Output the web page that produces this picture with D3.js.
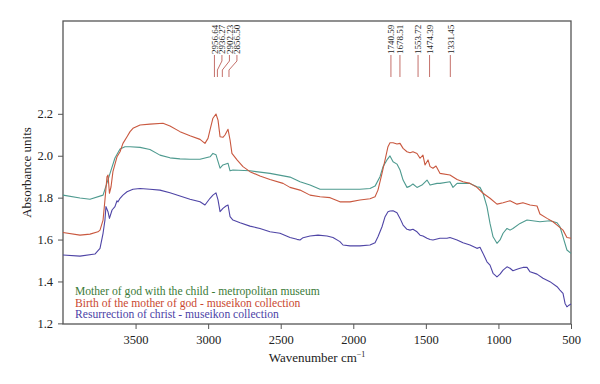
<!DOCTYPE html>
<html>
<head>
<meta charset="utf-8">
<script src="https://cdn.jsdelivr.net/npm/d3@7"></script>
<style>
  body { margin: 0; background: #fff; }
  svg text { font-family: "Liberation Serif", "Times New Roman", "DejaVu Serif", serif; }
  .axis text { font-size: 12.5px; fill: #222; }
  .axis line { stroke: #555; }
</style>
</head>
<body>
<div id="chart"></div>
<script>
// series: [wavenumber, absorbance]
const motherChild = [
  [4000,1.812],[3883,1.798],[3814,1.792],[3724,1.812],[3676,1.916],[3642,1.989],[3607,2.032],
  [3573,2.043],[3538,2.043],[3469,2.040],[3401,2.030],[3332,2.003],[3263,1.990],[3194,1.985],
  [3125,1.983],[3056,1.983],[2987,1.995],[2967,2.011],[2946,2.005],[2939,1.989],[2918,1.941],
  [2898,1.956],[2863,1.964],[2849,1.928],[2829,1.932],[2712,1.928],[2574,1.916],[2436,1.898],
  [2367,1.876],[2298,1.860],[2229,1.840],[2092,1.840],[1954,1.840],[1885,1.844],[1850,1.855],
  [1816,1.900],[1795,1.948],[1768,1.980],[1747,1.999],[1726,1.971],[1699,1.960],[1678,1.932],
  [1657,1.884],[1630,1.849],[1609,1.855],[1589,1.865],[1561,1.849],[1527,1.860],[1492,1.884],
  [1471,1.860],[1423,1.868],[1403,1.868],[1334,1.876],[1313,1.849],[1285,1.868],[1196,1.868],
  [1148,1.852],[1127,1.849],[1106,1.821],[1079,1.757],[1058,1.677],[1037,1.613],[1010,1.582],
  [989,1.598],[968,1.630],[941,1.653],[920,1.645],[900,1.653],[851,1.677],[803,1.693],
  [714,1.685],[645,1.690],[596,1.680],[576,1.661],[555,1.613],[528,1.550],[500,1.534]
];

const birthMother = [
  [4000,1.634],[3883,1.621],[3814,1.626],[3759,1.637],[3745,1.645],[3724,1.693],[3711,1.789],
  [3697,1.900],[3690,1.908],[3680,1.821],[3669,1.852],[3656,1.924],[3628,1.995],[3607,2.019],
  [3587,2.059],[3559,2.091],[3538,2.115],[3518,2.131],[3469,2.147],[3401,2.151],[3311,2.155],
  [3263,2.142],[3194,2.115],[3125,2.095],[3056,2.078],[3022,2.059],[3001,2.083],[2987,2.123],
  [2967,2.179],[2946,2.199],[2932,2.170],[2918,2.091],[2898,2.088],[2884,2.099],[2863,2.126],
  [2849,2.075],[2836,2.011],[2801,1.980],[2760,1.948],[2712,1.924],[2643,1.903],[2574,1.887],
  [2484,1.868],[2436,1.849],[2367,1.836],[2298,1.812],[2229,1.804],[2160,1.800],[2092,1.780],
  [2023,1.780],[1954,1.789],[1885,1.795],[1850,1.804],[1830,1.836],[1802,1.916],[1781,1.980],
  [1761,2.043],[1747,2.062],[1726,2.062],[1699,2.056],[1678,2.059],[1657,2.035],[1630,2.019],
  [1609,2.014],[1589,2.019],[1561,2.011],[1540,1.988],[1520,2.003],[1506,1.956],[1485,1.980],
  [1471,1.948],[1451,1.940],[1430,1.951],[1403,1.916],[1334,1.908],[1285,1.887],[1244,1.876],
  [1196,1.868],[1148,1.849],[1106,1.821],[1058,1.797],[1010,1.769],[968,1.776],[920,1.785],
  [872,1.769],[831,1.776],[782,1.765],[734,1.760],[714,1.722],[665,1.701],[624,1.685],
  [596,1.669],[555,1.645],[528,1.610],[500,1.606]
];

const resurrection = [
  [4000,1.526],[3883,1.521],[3780,1.531],[3745,1.558],[3724,1.630],[3711,1.693],[3704,1.757],
  [3690,1.733],[3680,1.701],[3662,1.741],[3642,1.757],[3628,1.785],[3621,1.780],[3607,1.797],
  [3587,1.812],[3559,1.828],[3518,1.840],[3469,1.844],[3401,1.840],[3332,1.836],[3263,1.823],
  [3194,1.808],[3125,1.792],[3056,1.780],[3022,1.765],[2987,1.797],[2967,1.812],[2946,1.823],
  [2932,1.789],[2918,1.733],[2898,1.749],[2877,1.760],[2863,1.765],[2849,1.709],[2829,1.693],
  [2780,1.680],[2712,1.664],[2643,1.653],[2574,1.637],[2505,1.630],[2436,1.610],[2388,1.601],
  [2367,1.598],[2346,1.609],[2298,1.617],[2243,1.621],[2181,1.617],[2140,1.610],[2092,1.590],
  [2071,1.574],[2023,1.570],[1954,1.570],[1885,1.574],[1850,1.585],[1830,1.613],[1802,1.661],
  [1781,1.709],[1761,1.733],[1747,1.736],[1726,1.737],[1699,1.728],[1678,1.701],[1657,1.669],
  [1630,1.649],[1609,1.645],[1589,1.649],[1561,1.637],[1540,1.621],[1520,1.617],[1492,1.606],
  [1471,1.600],[1451,1.598],[1403,1.606],[1354,1.606],[1334,1.610],[1285,1.598],[1244,1.585],
  [1196,1.574],[1148,1.558],[1127,1.563],[1106,1.534],[1079,1.494],[1058,1.478],[1037,1.439],
  [1010,1.422],[989,1.435],[968,1.454],[941,1.470],[920,1.463],[900,1.451],[872,1.458],
  [851,1.463],[831,1.467],[803,1.467],[782,1.446],[734,1.435],[693,1.415],[645,1.399],
  [596,1.375],[576,1.359],[555,1.343],[541,1.295],[528,1.279],[514,1.287],[500,1.292]
];

const seriesNames = [
  "Mother of god with the child - metropolitan museum",
  "Birth of the mother of god - museikon collection",
  "Resurrection of christ - museikon collection"
];

const peaksCH = [2956.64, 2936.27, 2902.23, 2856.50];
const peaksFingerprint = [1740.59, 1678.51, 1553.72, 1474.39, 1331.45];

const xTicks = [3500, 3000, 2500, 2000, 1500, 1000, 500];
const yTicks = [1.2, 1.4, 1.6, 1.8, 2.0, 2.2];

const width = 600, height = 384;
const plotLeft = 63, plotRight = 571, plotTop = 21, plotBottom = 324;
const serif = '"Liberation Serif", "Times New Roman", "DejaVu Serif", serif';

const lineColors = ["#4e9a8f", "#c9583f", "#4f45a6"];
const textColors = ["#3b7b38", "#c9482f", "#4b3fa6"];

const svg = d3.select("#chart").append("svg")
    .attr("width", width)
    .attr("height", height);

const x = d3.scaleLinear().domain([4000, 500]).range([plotLeft, plotRight]);
const y = d3.scaleLinear().domain([1.197, 2.643]).range([plotBottom, plotTop]);

// frame
svg.append("rect")
    .attr("x", plotLeft).attr("y", plotTop)
    .attr("width", plotRight - plotLeft).attr("height", plotBottom - plotTop)
    .attr("fill", "none")
    .attr("stroke", "#555")
    .attr("stroke-width", 1.3);

/* axes */
const xAxis = d3.axisBottom(x).tickValues(xTicks).tickSize(5).tickSizeOuter(0).tickPadding(6)
    .tickFormat(d3.format("d"));
const yAxis = d3.axisLeft(y).tickValues(yTicks).tickSize(5).tickSizeOuter(0).tickPadding(5)
    .tickFormat(d3.format(".1f"));

svg.append("g")
    .attr("class", "axis")
    .attr("transform", `translate(0, ${plotBottom})`)
    .call(xAxis)
    .attr("font-family", serif)
    .call(g => g.select(".domain").remove());

svg.append("g")
    .attr("class", "axis")
    .attr("transform", `translate(${plotLeft}, 0)`)
    .call(yAxis)
    .attr("font-family", serif)
    .call(g => g.select(".domain").remove());

svg.append("text")
    .attr("x", (plotLeft + plotRight) / 2)
    .attr("y", 362)
    .attr("text-anchor", "middle")
    .style("font-size", "13px")
    .style("fill", "#222")
    .text("Wavenumber cm")
    .append("tspan")
    .attr("dy", -5)
    .style("font-size", "8px")
    .text("\u22121");

svg.append("text")
    .attr("transform", `translate(31, ${(plotTop + plotBottom) / 2}) rotate(-90)`)
    .attr("text-anchor", "middle")
    .style("font-size", "13px")
    .style("fill", "#222")
    .text("Absorbance units");

/* spectra */
const line = d3.line()
    .x(d => x(d[0]))
    .y(d => y(d[1]));

[motherChild, birthMother, resurrection].forEach((s, i) => {
  svg.append("path")
      .datum(s)
      .attr("fill", "none")
      .attr("stroke", lineColors[i])
      .attr("stroke-width", 1.1)
      .attr("stroke-linejoin", "round")
      .attr("d", line);
});

/* legend */
seriesNames.forEach((name, i) => {
  svg.append("text")
      .attr("x", 75)
      .attr("y", 295 + i * 11.5)
      .style("font-size", "11.6px")
      .style("fill", textColors[i])
      .text(name);
});

/* peak markers */
const markTop = 55, markBottom = 77;
const peakColor = "#c4706a";

function drawPeaks(peaks, spread) {
  let prev = -Infinity;
  peaks.forEach(p => {
    const px = x(p);
    const lx = spread ? Math.max(px, prev + 7.5) : px;
    prev = lx;
    const path = d3.path();
    path.moveTo(px, markBottom);
    if (lx !== px) {
      path.lineTo(px, markBottom - 7);
      path.lineTo(lx, markTop + 6);
    }
    path.lineTo(lx, markTop);
    svg.append("path")
        .attr("d", path.toString())
        .attr("fill", "none")
        .attr("stroke", peakColor)
        .attr("stroke-width", 1);
    svg.append("text")
        .attr("transform", `translate(${lx + 3.2}, ${markTop - 1}) rotate(-90)`)
        .style("font-size", "9px")
        .style("fill", "#222")
        .text(p.toFixed(2));
  });
}

drawPeaks(peaksCH, true);
drawPeaks(peaksFingerprint, false);
</script>
</body>
</html>
